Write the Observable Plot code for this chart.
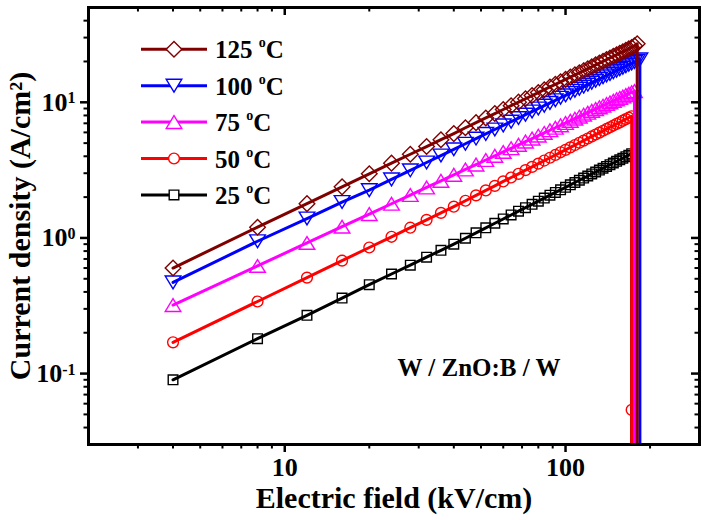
<!DOCTYPE html>
<html><head><meta charset="utf-8">
<script src="https://cdn.jsdelivr.net/npm/d3@7"></script>
<script src="https://cdn.jsdelivr.net/npm/@observablehq/plot@0.6"></script>
<style>html,body{margin:0;padding:0;background:#fff;}</style>
</head><body><div id="chart"></div>
<script>
// Electric field (kV/cm) sample points
const fieldE = [4,8,12,16,20,24,28,32,36,40,44,48,52,56,60,64,68,72,76,80,84,88,92,96,100,104,108,112,116,120,124,128,132,136,140,144,148,152,156,160,164,168,172,176,180,184];

// Current density (A/cm2) per temperature
const j125 = [0.60,1.20,1.79,2.38,2.97,3.56,4.14,4.72,5.30,5.88,6.49,7.08,7.67,8.26,8.85,9.44,10.03,10.62,11.21,11.80,12.39,12.98,13.57,14.16,14.75,15.34,15.93,16.52,17.11,17.70,18.29,18.88,19.47,20.06,20.65,21.24,21.83,22.42,23.01,23.60,24.19,24.78,25.37,26.10,27.00];
const j100 = [0.47,0.945,1.39,1.84,2.25,2.70,3.15,3.60,4.05,4.50,4.95,5.40,5.85,6.30,6.75,7.20,7.65,8.10,8.55,9.00,9.45,9.90,10.35,10.80,11.25,11.70,12.15,12.60,13.05,13.50,13.95,14.40,14.85,15.30,15.75,16.20,16.65,17.10,17.55,18.00,18.45,18.90,19.35,19.80,20.25,20.70];
const j75 = [0.320,0.622,0.919,1.211,1.500,1.787,2.072,2.356,2.638,2.919,3.198,3.477,3.755,4.032,4.308,4.583,4.858,5.132,5.405,5.678,5.950,6.222,6.494,6.764,7.035,7.304,7.574,7.843,8.111,8.380,8.648,8.916,9.183,9.450,9.717,9.983,10.250,10.515,10.780,11.045,11.311,11.576,11.839,12.105];
const j50 = [0.170,0.340,0.510,0.680,0.850,1.02,1.19,1.36,1.53,1.70,1.88,2.06,2.24,2.42,2.61,2.79,2.97,3.16,3.34,3.53,3.72,3.90,4.09,4.28,4.46,4.65,4.84,5.03,5.22,5.41,5.60,5.79,5.98,6.17,6.36,6.55,6.74,6.93,7.12,7.32,7.51,7.70,7.89];
const j25 = [0.090,0.181,0.269,0.360,0.452,0.542,0.630,0.722,0.810,0.900,0.995,1.091,1.187,1.283,1.380,1.477,1.575,1.672,1.770,1.868,1.967,2.066,2.165,2.264,2.363,2.463,2.562,2.662,2.762,2.863,2.963,3.064,3.165,3.265,3.366,3.467,3.569,3.670,3.772,3.874,3.976,4.077,4.180];

// breakdown: extra readings taken at the last field value
const tail125 = [0.001];
const tail100 = [0.001];
const tail75 = [0.001];
const tail50 = [0.054, 0.001];
const tail25 = [0.001];

const tempLabels = ["125", "100", "75", "50", "25"];
const colors = ["#800000", "#0000ff", "#ff00ff", "#ff0000", "#000000"];

const xMajor = [10, 100];
const xMinor = [3,4,5,6,7,8,9,20,30,40,50,60,70,80,90,200];
const yMajor = [0.1, 1, 10];
const yMinor = [0.04,0.05,0.06,0.07,0.08,0.09,0.2,0.3,0.4,0.5,0.6,0.7,0.8,0.9,2,3,4,5,6,7,8,9,20,30,40];

const FONT = "'Liberation Serif','Times New Roman',serif";

// marker shapes
const rOf = s => Math.sqrt(s / Math.PI);
const symSquare = {draw(c, s){const r=rOf(s); c.moveTo(-r,-r); c.lineTo(r,-r); c.lineTo(r,r); c.lineTo(-r,r); c.closePath();}};
const symDiamond = {draw(c, s){const r=rOf(s); c.moveTo(0,-r); c.lineTo(r,0); c.lineTo(0,r); c.lineTo(-r,0); c.closePath();}};
const symTriUp = {draw(c, s){const r=rOf(s), h=0.82*r; c.moveTo(0,-h); c.lineTo(r,h); c.lineTo(-r,h); c.closePath();}};
const symTriDown = {draw(c, s){const r=rOf(s), h=0.82*r; c.moveTo(0,h); c.lineTo(r,-h); c.lineTo(-r,-h); c.closePath();}};
const symCircle = {draw(c, s){const r=rOf(s); c.moveTo(r,0); c.arc(0,0,r,0,2*Math.PI);}};

function build(vals, tail) {
  const rows = vals.map((v, i) => ({E: fieldE[i], J: v}));
  const lastE = fieldE[vals.length - 1];
  tail.forEach(v => rows.push({E: lastE, J: v}));
  return rows;
}

const series = [
  {label: tempLabels[0], color: colors[0], rows: build(j125, tail125), sym: symDiamond, r: 7.8},
  {label: tempLabels[1], color: colors[1], rows: build(j100, tail100), sym: symTriDown, r: 7.8},
  {label: tempLabels[2], color: colors[2], rows: build(j75, tail75), sym: symTriUp, r: 7.8},
  {label: tempLabels[3], color: colors[3], rows: build(j50, tail50), sym: symCircle, r: 5.4},
  {label: tempLabels[4], color: colors[4], rows: build(j25, tail25), sym: symSquare, r: 4.8}
];

const drawOrder = [4, 3, 2, 1, 0];
const dataMarks = [];
drawOrder.forEach(k => {
  const s = series[k];
  dataMarks.push(Plot.line(s.rows, {x: "E", y: "J", stroke: s.color, strokeWidth: 3, clip: true}));
  dataMarks.push(Plot.dot(s.rows, {x: "E", y: "J", symbol: s.sym, r: s.r, stroke: s.color, fill: "none", strokeWidth: 1.4, clip: true}));
});

const chart = Plot.plot({
  width: 702, height: 520,
  marginLeft: 88, marginRight: 3, marginTop: 7, marginBottom: 76,
  style: {fontFamily: FONT, fontWeight: "bold", fontSize: "26px", color: "#000", background: "#fff", overflow: "visible"},
  x: {type: "log", domain: [2, 300]},
  y: {type: "log", domain: [0.03, 50]},
  marks: [
    ...dataMarks,
    Plot.frame({stroke: "#000", strokeWidth: 3}),
    Plot.axisX(xMajor, {anchor: "bottom", tickSize: 8, tickPadding: 5, strokeWidth: 2.5, fontSize: 26, fontWeight: "bold", tickFormat: d => String(d), label: null}),
    Plot.axisX([], {anchor: "bottom", tickSize: 0, fontSize: 30, fontWeight: "bold", label: "Electric field (kV/cm)", labelAnchor: "center", labelArrow: "none", labelOffset: 63}),
    Plot.axisX(xMinor, {anchor: "bottom", tickSize: 4.5, strokeWidth: 2, fill: "none", label: null}),
    Plot.axisX(xMajor, {anchor: "bottom", frameAnchor: "top", tickSize: 8, strokeWidth: 2.5, fill: "none", label: null}),
    Plot.axisX(xMinor, {anchor: "bottom", frameAnchor: "top", tickSize: 4.5, strokeWidth: 2, fill: "none", label: null}),
    Plot.axisY(yMajor, {anchor: "left", tickSize: 8, tickPadding: 5, strokeWidth: 2.5, fontSize: 26, fontWeight: "bold", tickFormat: d => String(Math.round(Math.log10(d))), label: null}),
    Plot.axisY([], {anchor: "left", tickSize: 0, fontSize: 30, fontWeight: "bold", label: "Current density (A/cm²)", labelAnchor: "center", labelArrow: "none", labelOffset: 80}),
    Plot.axisY(yMinor, {anchor: "left", tickSize: 4.5, strokeWidth: 2, fill: "none", label: null}),
    Plot.axisY(yMajor, {anchor: "left", frameAnchor: "right", tickSize: 8, strokeWidth: 2.5, fill: "none", label: null}),
    Plot.axisY(yMinor, {anchor: "left", frameAnchor: "right", tickSize: 4.5, strokeWidth: 2, fill: "none", label: null})
  ]
});

document.getElementById("chart").appendChild(chart);
const svg = d3.select(chart);

// y tick labels as 10^n with superscript
svg.selectAll('[aria-label="y-axis tick label"] text').each(function() {
  const e = this.textContent;
  const t = d3.select(this);
  t.text(null);
  t.append("tspan").text("10");
  t.append("tspan").attr("dy", "-0.45em").attr("font-size", "16px").text(e);
});

// legend
const lg = svg.append("g").attr("font-family", FONT).attr("font-weight", "bold").attr("text-anchor", "start");
series.forEach((s, i) => {
  const y = 49.3 + i * 36.4;
  lg.append("line").attr("x1", 141).attr("x2", 207).attr("y1", y).attr("y2", y).attr("stroke", s.color).attr("stroke-width", 3);
  lg.append("path").attr("d", d3.symbol(s.sym, s.r * s.r * Math.PI)()).attr("transform", `translate(174,${y})`)
    .attr("fill", "#fff").attr("stroke", s.color).attr("stroke-width", 1.4);
  const t = lg.append("text").attr("x", 215).attr("y", y + 9).attr("font-size", "25px").attr("fill", "#000").attr("text-anchor", "start");
  t.append("tspan").text(s.label + " ");
  t.append("tspan").attr("dy", -11).attr("font-size", "14px").text("o");
  t.append("tspan").attr("dy", 11).text("C");
});

// sample annotation
svg.append("text").attr("x", 479).attr("y", 376).attr("text-anchor", "middle")
  .attr("font-family", FONT).attr("font-weight", "bold").attr("font-size", "25px")
  .text("W / ZnO:B / W");
</script></body></html>
